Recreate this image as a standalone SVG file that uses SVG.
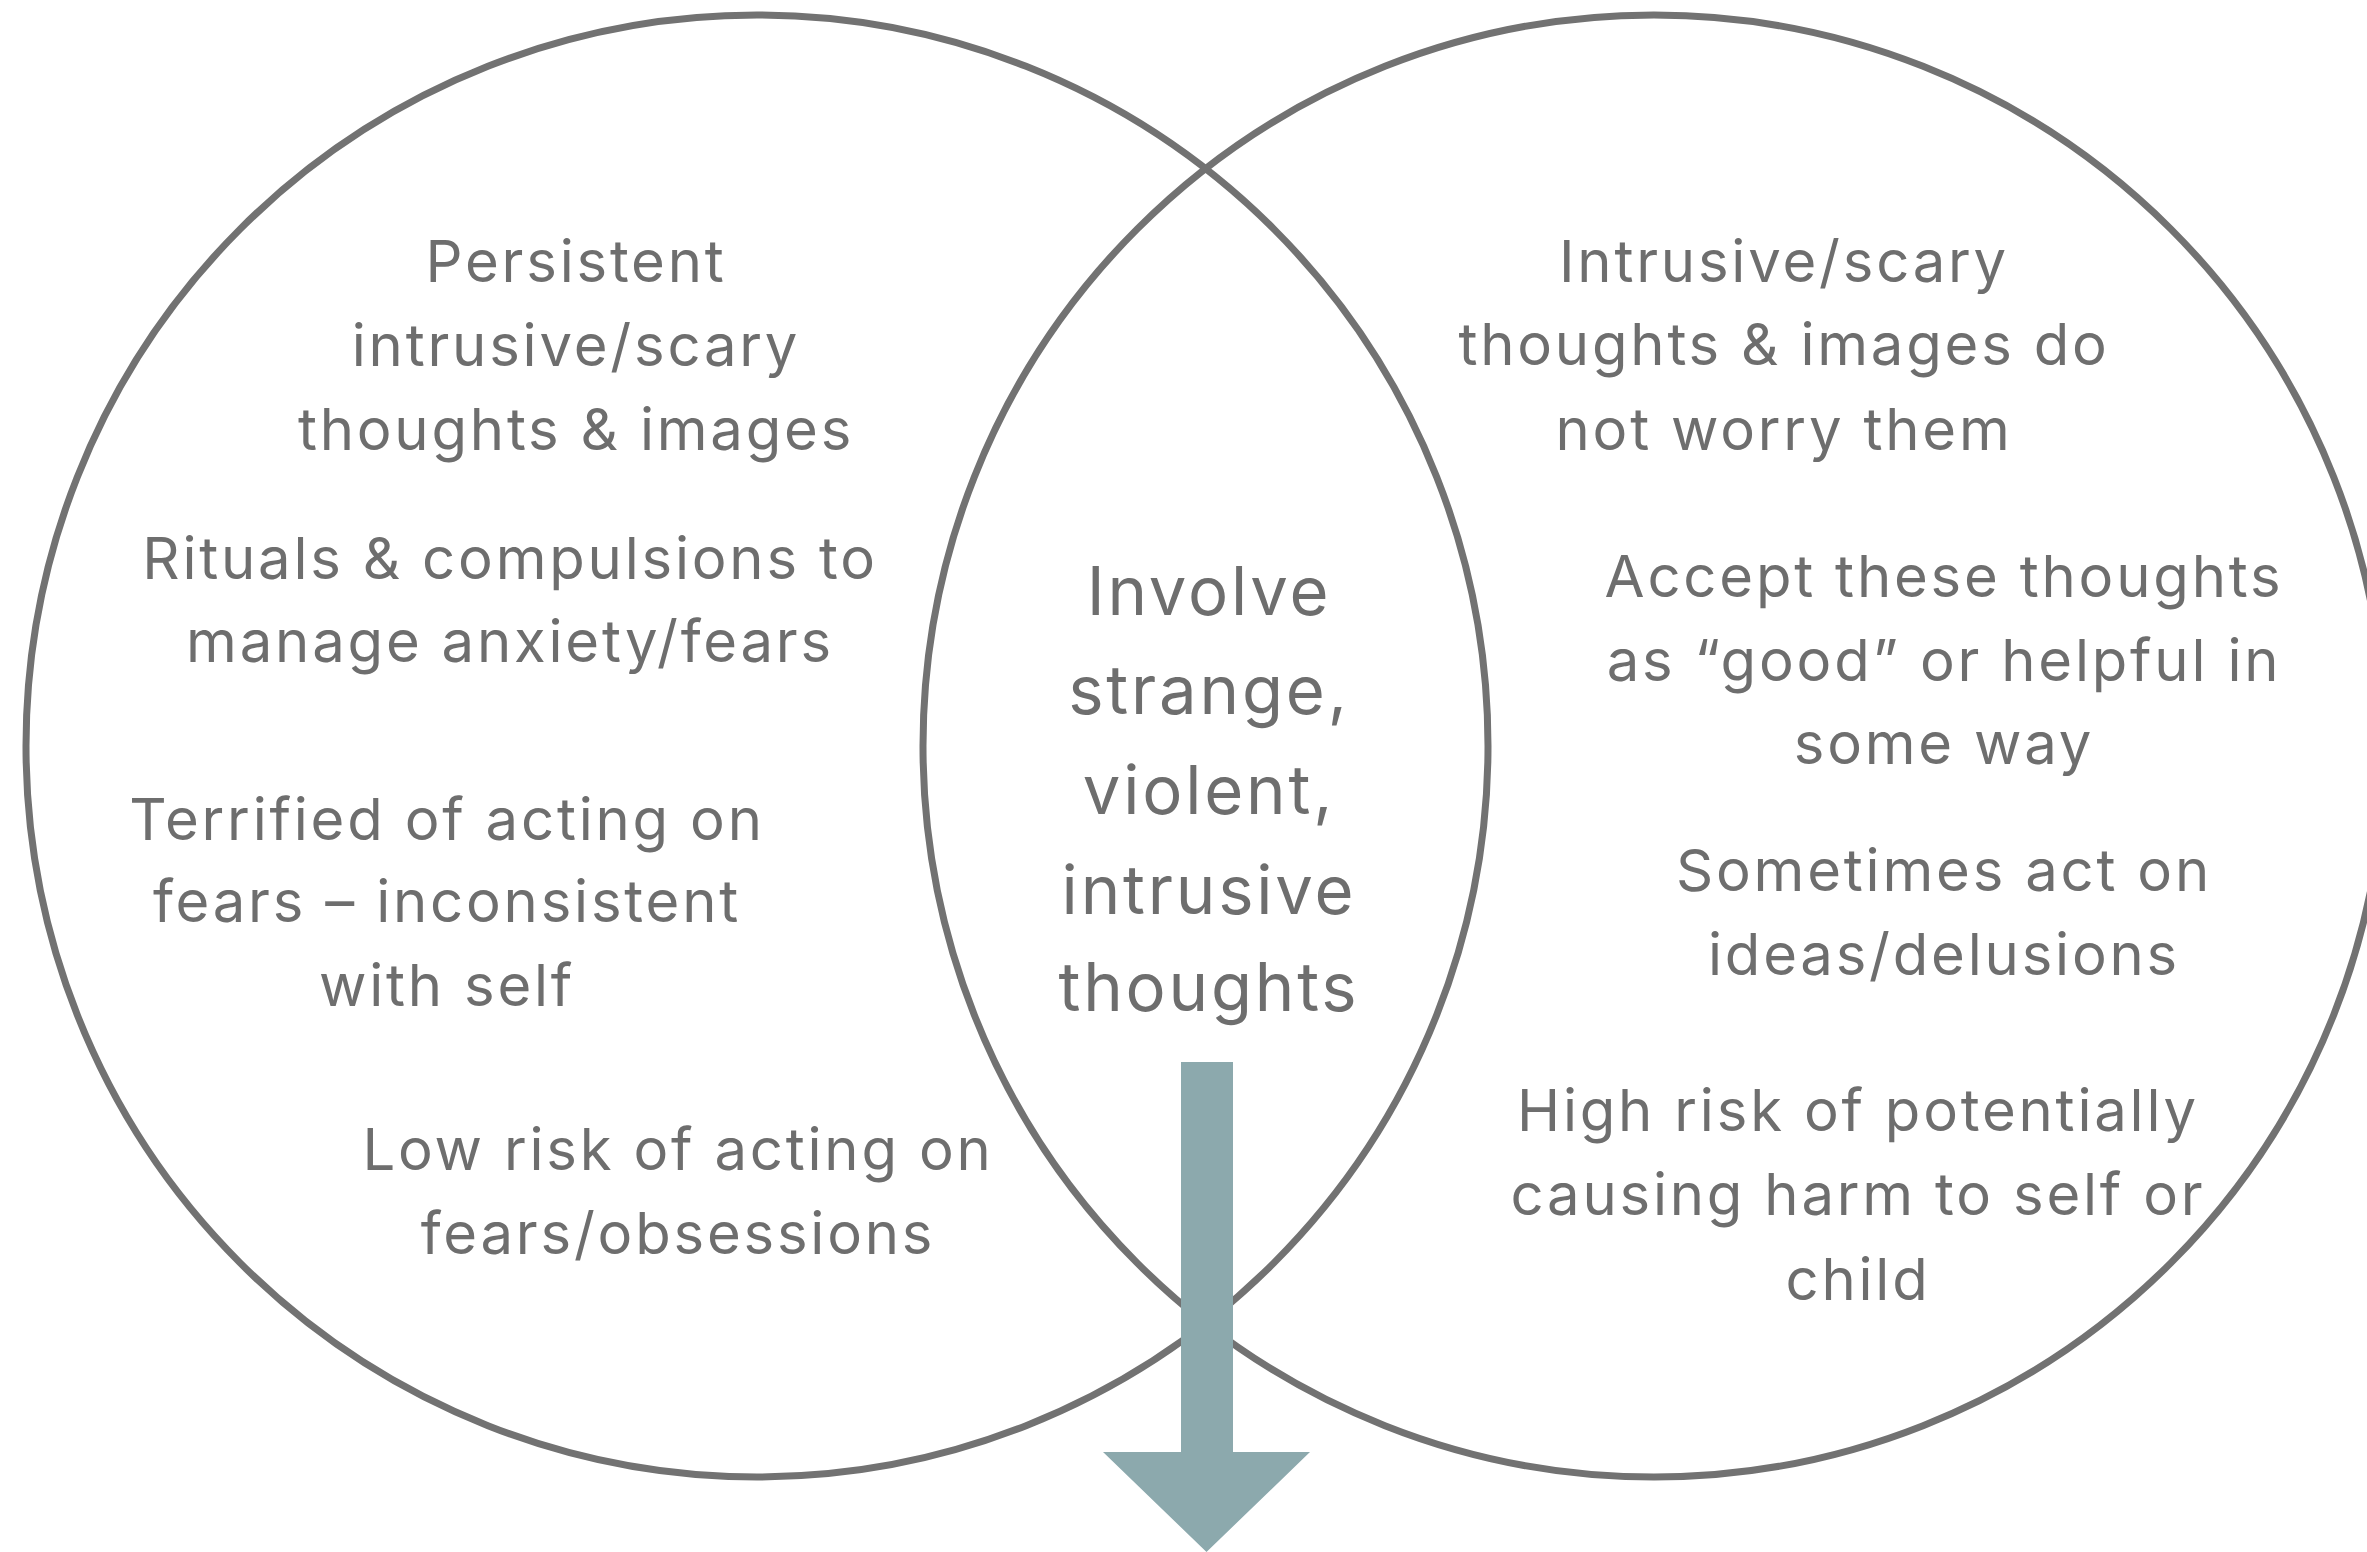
<svg xmlns="http://www.w3.org/2000/svg" width="2367" height="1552" viewBox="0 0 2367 1552">
  <style>
    .ring { fill: none; stroke: #727272; stroke-width: 7; }
    .lbl { font-family: Inter, "Liberation Sans", sans-serif; font-size: 58px; letter-spacing: 2.8px; fill: #6e6e6e; text-anchor: middle; }
    .mid { font-size: 67px; letter-spacing: 2.8px; }
    .arrow { fill: #8ca9ad; }
  </style>
  <rect width="2367" height="1552" fill="#ffffff"/>

  <!-- Venn sets -->
  <g id="set-left">
    <circle class="ring" cx="757" cy="746" r="731"/>
  </g>
  <g id="set-right">
    <circle class="ring" cx="1654" cy="746" r="731"/>
  </g>

  <!-- Left-only statements -->
  <g id="left-1">
    <text class="lbl" x="576" y="282">Persistent</text>
    <text class="lbl" x="576" y="366">intrusive/scary</text>
    <text class="lbl" x="576" y="450">thoughts &amp; images</text>
  </g>
  <g id="left-2">
    <text class="lbl" x="510" y="579">Rituals &amp; compulsions to</text>
    <text class="lbl" x="510" y="662">manage anxiety/fears</text>
  </g>
  <g id="left-3">
    <text class="lbl" x="447" y="840">Terrified of acting on</text>
    <text class="lbl" x="447" y="922">fears – inconsistent</text>
    <text class="lbl" x="447" y="1006">with self</text>
  </g>
  <g id="left-4">
    <text class="lbl" x="678" y="1170">Low risk of acting on</text>
    <text class="lbl" x="678" y="1254">fears/obsessions</text>
  </g>

  <!-- Shared statement -->
  <g id="overlap">
    <text class="lbl mid" x="1209" y="615">Involve</text>
    <text class="lbl mid" x="1209" y="714">strange,</text>
    <text class="lbl mid" x="1209" y="814">violent,</text>
    <text class="lbl mid" x="1209" y="914">intrusive</text>
    <text class="lbl mid" x="1209" y="1011">thoughts</text>
  </g>

  <!-- Right-only statements -->
  <g id="right-1">
    <text class="lbl" x="1784" y="282">Intrusive/scary</text>
    <text class="lbl" x="1784" y="365">thoughts &amp; images do</text>
    <text class="lbl" x="1784" y="450">not worry them</text>
  </g>
  <g id="right-2">
    <text class="lbl" x="1944" y="597">Accept these thoughts</text>
    <text class="lbl" x="1944" y="681">as “good” or helpful in</text>
    <text class="lbl" x="1944" y="764">some way</text>
  </g>
  <g id="right-3">
    <text class="lbl" x="1944" y="891">Sometimes act on</text>
    <text class="lbl" x="1944" y="975">ideas/delusions</text>
  </g>
  <g id="right-4">
    <text class="lbl" x="1858" y="1131">High risk of potentially</text>
    <text class="lbl" x="1858" y="1215">causing harm to self or</text>
    <text class="lbl" x="1858" y="1300">child</text>
  </g>

  <!-- Downward arrow out of the overlap -->
  <g id="connectors">
    <path class="arrow" d="M1181,1062 H1233 V1452 H1310 L1206.5,1552 L1103,1452 H1181 Z"/>
  </g>
</svg>
